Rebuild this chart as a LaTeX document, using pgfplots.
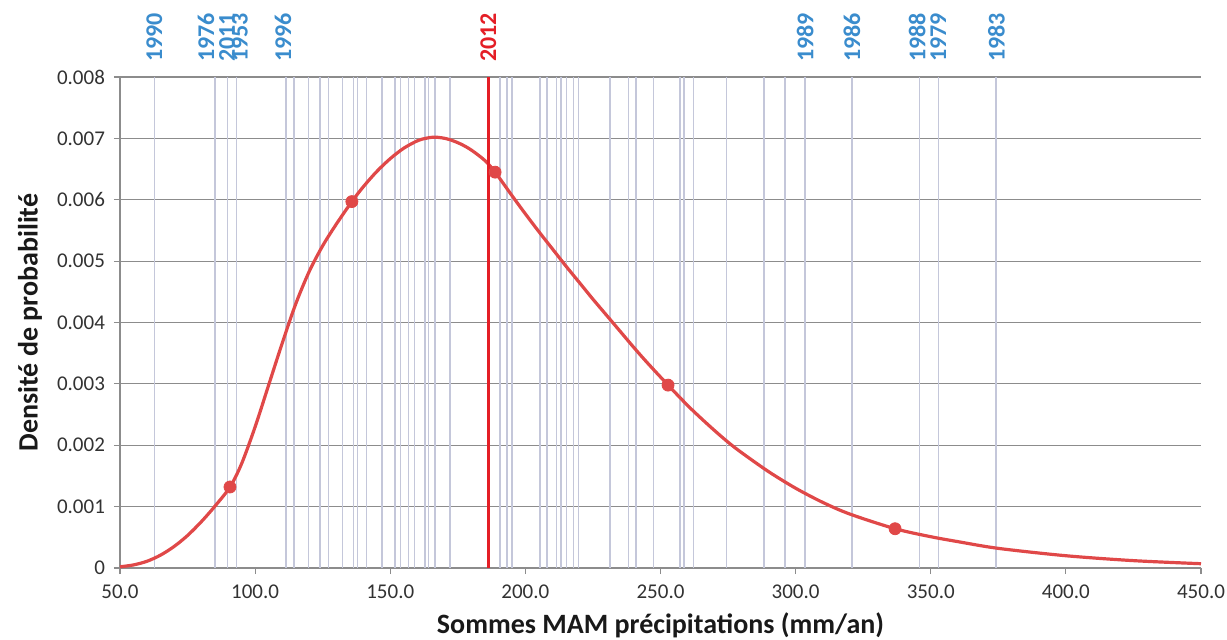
\documentclass[border=0pt]{standalone}
\usepackage{pgfplots}
\pgfplotsset{compat=1.18}
\usepackage{pgfplotstable}
\usepackage{fontspec}
\setmainfont{Carlito}
\definecolor{curvered}{RGB}{224,72,72}
\definecolor{linered}{RGB}{228,30,38}
\definecolor{yearblue}{RGB}{58,140,205}
\definecolor{vline}{RGB}{196,199,218}
\definecolor{gridgray}{RGB}{140,140,140}
\definecolor{ticktext}{RGB}{50,50,50}

\pgfplotstableread{
x y
50 0.00002
55 0.00005
60 0.00011
65 0.00021
70 0.00035
75 0.00053
80 0.00075
85 0.00100
90.7 0.00132
95 0.00170
100 0.00230
105 0.00298
110 0.00366
115 0.00430
120 0.00483
125 0.00525
130 0.00560
135.8 0.00597
140 0.00621
145 0.00646
150 0.00667
155 0.00684
160 0.00696
163 0.00700
166 0.00702
169 0.00701
172 0.00698
176 0.00691
180 0.00681
185 0.00664
188.8 0.00645
195 0.00607
200 0.00577
205 0.00548
210 0.00520
215 0.00492
220 0.00465
225 0.00438
230 0.00412
235 0.00386
240 0.00360
245 0.00335
252.8 0.00298
260 0.00265
265 0.00244
270 0.00224
275 0.00205
280 0.00188
290 0.00157
300 0.00130
310 0.00107
320 0.00088
336.8 0.00064
350 0.00051
360 0.00043
375 0.00032
400 0.00020
425 0.00012
450 0.00007
}\curvedata

\pgfplotstableread{
x y
90.7 0.00132
135.8 0.00597
188.8 0.00645
252.8 0.00298
336.8 0.00064
}\dotsdata

\pgfplotstableread{
x y
62.7 0.008
85.2 0.008
89.8 0.008
93.2 0.008
111.4 0.008
114.4 0.008
119.7 0.008
124.0 0.008
127.1 0.008
132.4 0.008
136.5 0.008
137.8 0.008
141.2 0.008
146.9 0.008
151.8 0.008
153.9 0.008
156.8 0.008
159.0 0.008
162.9 0.008
164.1 0.008
166.6 0.008
172.1 0.008
190.6 0.008
193.2 0.008
195.1 0.008
205.4 0.008
208.0 0.008
211.6 0.008
213.2 0.008
215.3 0.008
217.7 0.008
219.6 0.008
231.3 0.008
238.1 0.008
240.9 0.008
247.3 0.008
257.2 0.008
258.7 0.008
262.1 0.008
274.5 0.008
288.3 0.008
296.1 0.008
303.5 0.008
320.8 0.008
345.8 0.008
352.8 0.008
374.1 0.008
}\yearsdata

\begin{document}
\begin{tikzpicture}
\path[use as bounding box] (-60pt,-35.5pt) rectangle (553.5pt,284pt);
\begin{axis}[
  scale only axis,
  width=540.5pt, height=245.5pt,
  xmin=50, xmax=450, ymin=0, ymax=0.008,
  clip=false,
  axis x line*=bottom, axis y line*=left,
  axis line style={draw=gridgray, line width=0.6pt},
  xtick={50,100,...,450},
  ytick={0,0.001,0.002,0.003,0.004,0.005,0.006,0.007,0.008},
  yticklabels={0,0.001,0.002,0.003,0.004,0.005,0.006,0.007,0.008},
  scaled y ticks=false,
  x tick label style={/pgf/number format/.cd, fixed, fixed zerofill, precision=1, assume math mode=true, /tikz/.cd, yshift=-2pt},
  tick label style={font=\fontsize{10.5}{12}\selectfont, text=ticktext},
  tick align=outside,
  major tick length=3pt,
  tick style={draw=gridgray, line width=0.6pt},
  ymajorgrids,
  grid style={draw=gridgray, line width=0.6pt},
  xlabel={Sommes MAM précipitations (mm/an)},
  ylabel={Densité de probabilité},
  every axis x label/.style={at={(axis description cs:0.5,0)}, yshift=-28.5pt, anchor=center, font=\fontsize{14}{16}\selectfont\bfseries, text=black!90},
  every axis y label/.style={at={(axis description cs:0,0.5)}, xshift=-45pt, rotate=90, anchor=center, font=\fontsize{14}{16}\selectfont\bfseries, text=black!90},
  y tick label style={xshift=-1pt},
]
\addplot[ycomb, draw=vline, line width=0.7pt, mark=none, forget plot] table {\yearsdata};
\addplot[draw=curvered, line width=1.6pt, smooth, mark=none] table {\curvedata};
\addplot[draw=linered, line width=1.6pt, mark=none] coordinates {(186.3,0) (186.3,0.008)};
\addplot[only marks, mark=*, mark size=3pt, mark options={fill=curvered, draw=curvered}] table {\dotsdata};

\begin{scope}[every node/.style={rotate=90, anchor=west, inner sep=0pt, xshift=7.5pt, font=\fontsize{12}{12}\selectfont\bfseries, text=yearblue}]
\node at (axis cs:62.7,0.008) {1990};
\node at (axis cs:81.8,0.008) {1976};
\node at (axis cs:89.6,0.008) {2011};
\node at (axis cs:94.3,0.008) {1953};
\node at (axis cs:110.3,0.008) {1996};
\node[text=linered] at (axis cs:186.3,0.008) {2012};
\node at (axis cs:303.5,0.008) {1989};
\node at (axis cs:320.8,0.008) {1986};
\node at (axis cs:345.0,0.008) {1988};
\node at (axis cs:352.8,0.008) {1979};
\node at (axis cs:374.3,0.008) {1983};
\end{scope}
\end{axis}
\end{tikzpicture}
\end{document}
